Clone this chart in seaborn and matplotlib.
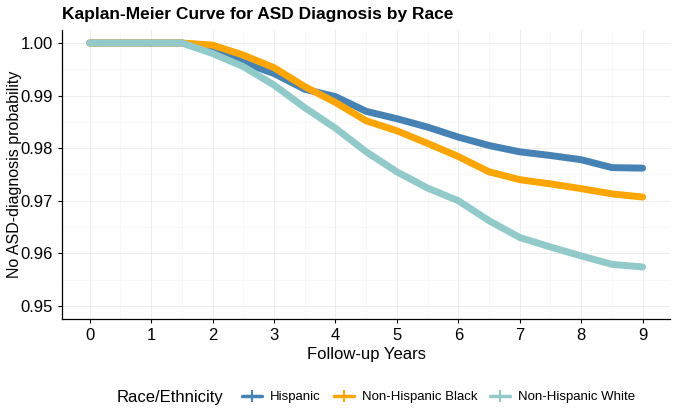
import numpy as np
import pandas as pd
import matplotlib
matplotlib.use("Agg")
import matplotlib.pyplot as plt
from matplotlib.lines import Line2D
from matplotlib.ticker import MultipleLocator
import seaborn as sns

# survival estimates, every half year
years = [0, 0.5, 1.0, 1.5, 2.0, 2.5, 3.0, 3.5, 4.0, 4.5, 5.0, 5.5, 6.0, 6.5, 7.0, 7.5, 8.0, 8.5, 9.0]
hispanic = [1.0, 1.0, 1.0, 1.0, 0.9990, 0.9963, 0.9942, 0.9912, 0.9898, 0.9870, 0.9856, 0.9840,
            0.9821, 0.9805, 0.9793, 0.9786, 0.9778, 0.9763, 0.9762]
nh_black = [1.0, 1.0, 1.0, 1.0, 0.9996, 0.9977, 0.9953, 0.9917, 0.9887, 0.9852, 0.9833, 0.9809,
            0.9784, 0.9755, 0.9740, 0.9732, 0.9723, 0.9713, 0.9707]
nh_white = [1.0, 1.0, 1.0, 1.0, 0.9980, 0.9955, 0.9920, 0.9877, 0.9838, 0.9793, 0.9755, 0.9724,
            0.9700, 0.9662, 0.9630, 0.9612, 0.9595, 0.9579, 0.9574]

groups = ["Hispanic", "Non-Hispanic Black", "Non-Hispanic White"]
colors = ["#4682B4", "#FFA500", "#92CACA"]

df = pd.concat([
    pd.DataFrame({"time": years, "surv": s, "race": g})
    for g, s in zip(groups, [hispanic, nh_black, nh_white])
])

sns.set_style("white")
plt.rcParams["font.family"] = ["Liberation Sans", "DejaVu Sans"]
plt.rcParams["text.color"] = "black"
plt.rcParams["axes.labelcolor"] = "black"

fig = plt.figure(figsize=(6.75, 4.09), dpi=100)
ax = fig.add_axes([0.092, 0.22, 0.901, 0.707])

sns.lineplot(data=df, x="time", y="surv", hue="race", hue_order=groups,
             palette=colors, linewidth=5, ax=ax, legend=False, sort=False)

ax.set_xlim(-0.45, 9.45)
ax.set_ylim(0.9475, 1.0025)
ax.xaxis.set_major_locator(MultipleLocator(1))
ax.xaxis.set_minor_locator(MultipleLocator(0.5))
ax.yaxis.set_major_locator(MultipleLocator(0.01))
ax.yaxis.set_minor_locator(MultipleLocator(0.005))
ax.yaxis.set_major_formatter(matplotlib.ticker.FormatStrFormatter("%.2f"))
ax.grid(which="major", color="#EBEBEB", linewidth=0.6)
ax.grid(which="minor", color="#F4F4F4", linewidth=0.4)
ax.set_axisbelow(True)

for s in ["top", "right"]:
    ax.spines[s].set_visible(False)
for s in ["left", "bottom"]:
    ax.spines[s].set_color("black")
    ax.spines[s].set_linewidth(0.9)

ax.tick_params(axis="both", which="major", direction="out", length=3, width=0.8,
               color="black", labelsize=12, labelcolor="black", bottom=True, left=True)
ax.tick_params(axis="both", which="minor", length=0)

ax.set_xlabel("Follow-up Years", fontsize=12, labelpad=3, color="black")
ax.set_ylabel("No ASD-diagnosis probability", fontsize=11.5, color="black")
ax.yaxis.set_label_coords(-0.066, 0.5)
ax.set_title("Kaplan-Meier Curve for ASD Diagnosis by Race", fontsize=12.5,
             fontweight="bold", loc="left", x=0.0, pad=8, color="black")

handles = [Line2D([0], [0], color=c, linewidth=2.5, marker="+", markersize=8,
                  markeredgewidth=1.5) for c in colors]
fig.text(0.173, 0.029, "Race/Ethnicity", fontsize=12, va="center", ha="left", color="black")
fig.legend(handles, groups, ncol=3, loc="center", bbox_to_anchor=(0.65, 0.029),
           frameon=False, fontsize=9.5, handlelength=1.5, handletextpad=0.6,
           columnspacing=1.0, labelcolor="black")

fig.savefig("out.png", dpi=100)
